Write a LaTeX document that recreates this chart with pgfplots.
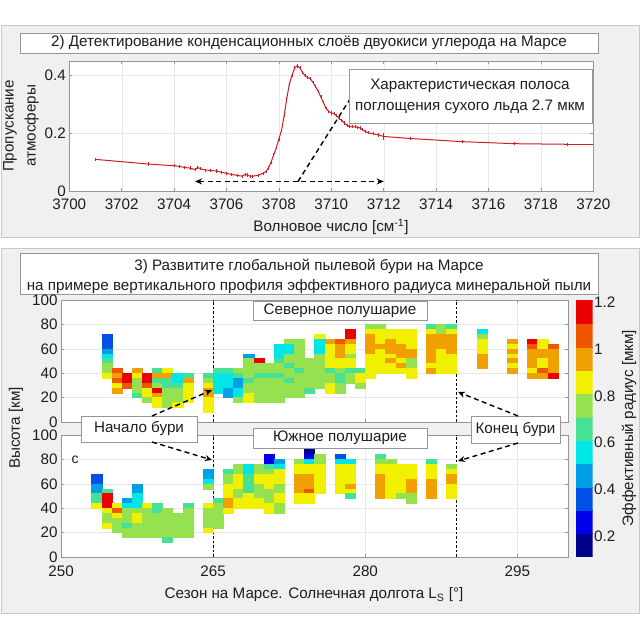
\documentclass[border=0pt]{standalone}
\usepackage{fontspec}
\setmainfont{Liberation Sans}
\usepackage{pgfplots}
\usepackage{pgfplotstable}
\pgfplotsset{compat=1.18}
\usetikzlibrary{arrows.meta}
\definecolor{c1}{RGB}{0,0,140}
\definecolor{c2}{RGB}{0,0,235}
\definecolor{c3}{RGB}{0,80,230}
\definecolor{c4}{RGB}{0,160,230}
\definecolor{c5}{RGB}{0,230,230}
\definecolor{c6}{RGB}{70,225,150}
\definecolor{c7}{RGB}{150,225,80}
\definecolor{c8}{RGB}{240,240,0}
\definecolor{c9}{RGB}{240,160,0}
\definecolor{c10}{RGB}{240,85,0}
\definecolor{c11}{RGB}{235,0,0}
\definecolor{panelbg}{RGB}{240,240,240}
\definecolor{panelline}{RGB}{200,200,200}
\definecolor{boxline}{RGB}{150,150,150}
\definecolor{curvered}{RGB}{205,30,40}
\definecolor{axgray}{RGB}{150,150,150}
\definecolor{txt}{RGB}{30,30,30}
\newcommand\fs{\fontsize{15.2}{18}\selectfont}
\pgfdeclareplotmark{heatcell}{\pgfpathrectangle{\pgfqpoint{-5.07pt}{-2.44pt}}{\pgfqpoint{10.14pt}{4.88pt}}\pgfusepathqfillstroke}
\pgfplotsset{
  myaxisstyle/.style={scale only axis, anchor=south west,
    axis background/.style={fill=white},
    axis line style={draw=axgray, line width=0.5pt},
    grid=major, major grid style={draw=gray!18, line width=0.4pt},
    tick align=inside, major tick length=3pt,
    tick style={draw=axgray, line width=0.5pt},
    tick label style={font=\fs, text=txt},
    /pgf/number format/assume math mode=true,
    /pgf/number format/1000 sep={},
    scaled ticks=false},
  myheatstyle/.style={myaxisstyle, width=506.9pt, height=122pt,
    xmin=250, xmax=300, ymin=0, ymax=100,
    xtick={250,265,280,295}, ytick={0,20,...,100}},
  mycells/.style={scatter, only marks, mark=heatcell, mark options={line width=0.3pt},
    point meta=explicit symbolic,
    scatter/@pre marker code/.code={\pgfsetfillcolor{c\pgfplotspointmeta}\pgfsetstrokecolor{c\pgfplotspointmeta}},
    scatter/@post marker code/.code={}},
  cbblock/.style={fill=#1, draw=#1, line width=0.2pt},
}
\pgfplotstableread[row sep=\\]{
x y c\\
254.5 70 3\\ 254.5 66 3\\ 254.5 62 3\\ 254.5 58 4\\ 254.5 54 5\\ 254.5 50 6\\ 254.5 46 7\\ 254.5 42 7\\ 254.5 38 8\\
255.5 42 10\\ 255.5 38 9\\ 255.5 34 10\\ 255.5 30 8\\ 255.5 26 9\\
256.5 38 11\\ 256.5 34 11\\ 256.5 30 10\\
257.5 42 9\\ 257.5 38 8\\ 257.5 34 7\\ 257.5 30 7\\ 257.5 26 7\\ 257.5 22 6\\
258.5 38 11\\ 258.5 34 11\\ 258.5 30 10\\ 258.5 26 8\\ 258.5 22 8\\ 258.5 18 7\\
259.5 42 6\\ 259.5 38 9\\ 259.5 34 6\\ 259.5 30 7\\ 259.5 26 11\\ 259.5 22 9\\ 259.5 18 8\\ 259.5 14 8\\
260.5 42 8\\ 260.5 38 9\\ 260.5 34 6\\ 260.5 30 6\\ 260.5 26 7\\ 260.5 22 7\\ 260.5 18 7\\ 260.5 14 7\\
261.5 38 5\\ 261.5 34 5\\ 261.5 30 6\\ 261.5 26 7\\ 261.5 22 7\\ 261.5 18 7\\ 261.5 14 8\\
262.5 38 6\\ 262.5 34 9\\ 262.5 30 8\\ 262.5 26 8\\ 262.5 22 8\\ 262.5 18 8\\
264.5 38 6\\ 264.5 34 7\\ 264.5 30 8\\ 264.5 26 9\\ 264.5 22 9\\ 264.5 18 8\\ 264.5 14 8\\ 264.5 10 8\\
265.5 42 6\\ 265.5 38 5\\ 265.5 34 5\\ 265.5 30 5\\ 265.5 26 5\\
266.5 42 6\\ 266.5 38 5\\ 266.5 34 5\\ 266.5 30 5\\ 266.5 26 4\\ 266.5 22 4\\
267.5 42 7\\ 267.5 38 6\\ 267.5 34 4\\ 267.5 30 4\\ 267.5 26 5\\ 267.5 22 5\\ 267.5 18 7\\
268.5 54 4\\ 268.5 50 7\\ 268.5 46 7\\ 268.5 42 7\\ 268.5 38 7\\ 268.5 34 6\\ 268.5 30 7\\ 268.5 26 7\\ 268.5 22 8\\ 268.5 18 8\\
269.5 50 11\\ 269.5 46 7\\ 269.5 42 7\\ 269.5 38 6\\ 269.5 34 7\\ 269.5 30 7\\ 269.5 26 7\\ 269.5 22 7\\ 269.5 18 7\\
270.5 46 7\\ 270.5 42 7\\ 270.5 38 6\\ 270.5 34 7\\ 270.5 30 7\\ 270.5 26 7\\ 270.5 22 7\\ 270.5 18 7\\
271.5 62 5\\ 271.5 58 5\\ 271.5 54 5\\ 271.5 50 6\\ 271.5 46 7\\ 271.5 42 7\\ 271.5 38 6\\ 271.5 34 7\\ 271.5 30 7\\ 271.5 26 7\\ 271.5 22 7\\ 271.5 18 7\\
272.5 66 7\\ 272.5 62 5\\ 272.5 58 5\\ 272.5 54 7\\ 272.5 50 7\\ 272.5 46 6\\ 272.5 42 7\\ 272.5 38 7\\ 272.5 34 6\\ 272.5 30 7\\ 272.5 26 7\\ 272.5 22 7\\
273.5 66 7\\ 273.5 62 7\\ 273.5 58 7\\ 273.5 54 7\\ 273.5 50 7\\ 273.5 46 7\\ 273.5 42 6\\ 273.5 38 7\\ 273.5 34 7\\ 273.5 30 7\\ 273.5 26 7\\ 273.5 22 7\\
274.5 50 7\\ 274.5 46 7\\ 274.5 42 7\\ 274.5 38 7\\ 274.5 34 7\\ 274.5 30 7\\ 274.5 26 6\\
275.5 70 8\\ 275.5 66 5\\ 275.5 62 5\\ 275.5 58 5\\ 275.5 54 7\\ 275.5 50 7\\ 275.5 46 7\\ 275.5 42 7\\ 275.5 38 7\\ 275.5 34 7\\ 275.5 30 7\\
276.5 66 9\\ 276.5 62 8\\ 276.5 58 8\\ 276.5 54 8\\ 276.5 50 8\\ 276.5 46 8\\ 276.5 42 6\\ 276.5 38 7\\ 276.5 34 7\\ 276.5 30 8\\ 276.5 26 8\\
277.5 66 10\\ 277.5 62 9\\ 277.5 58 9\\ 277.5 54 9\\ 277.5 50 8\\ 277.5 46 8\\ 277.5 42 7\\ 277.5 38 6\\ 277.5 34 6\\ 277.5 30 7\\ 277.5 26 7\\
278.5 74 11\\ 278.5 70 11\\ 278.5 66 9\\ 278.5 62 8\\ 278.5 58 8\\ 278.5 54 7\\ 278.5 50 8\\ 278.5 46 8\\ 278.5 42 6\\ 278.5 38 7\\ 278.5 34 7\\
279.5 42 6\\ 279.5 38 8\\ 279.5 34 8\\ 279.5 30 7\\
280.5 78 7\\ 280.5 74 8\\ 280.5 70 9\\ 280.5 66 9\\ 280.5 62 9\\ 280.5 58 9\\ 280.5 54 8\\ 280.5 50 8\\ 280.5 46 8\\ 280.5 42 8\\ 280.5 38 8\\
281.5 78 7\\ 281.5 74 8\\ 281.5 70 8\\ 281.5 66 8\\ 281.5 62 9\\ 281.5 58 8\\ 281.5 54 8\\ 281.5 50 8\\ 281.5 46 8\\ 281.5 42 8\\
282.5 74 8\\ 282.5 70 8\\ 282.5 66 9\\ 282.5 62 9\\ 282.5 58 9\\ 282.5 54 8\\ 282.5 50 9\\ 282.5 46 8\\ 282.5 42 8\\
283.5 74 8\\ 283.5 70 8\\ 283.5 66 8\\ 283.5 62 9\\ 283.5 58 9\\ 283.5 54 9\\ 283.5 50 8\\ 283.5 46 9\\ 283.5 42 8\\
284.5 74 8\\ 284.5 70 8\\ 284.5 66 8\\ 284.5 62 8\\ 284.5 58 9\\ 284.5 54 9\\ 284.5 50 7\\ 284.5 46 7\\ 284.5 42 8\\ 284.5 38 8\\
286.5 78 6\\ 286.5 74 8\\ 286.5 70 9\\ 286.5 66 9\\ 286.5 62 9\\ 286.5 58 9\\ 286.5 54 9\\ 286.5 50 9\\ 286.5 46 8\\ 286.5 42 9\\
287.5 78 7\\ 287.5 74 7\\ 287.5 70 9\\ 287.5 66 9\\ 287.5 62 9\\ 287.5 58 8\\ 287.5 54 8\\ 287.5 50 8\\ 287.5 46 8\\ 287.5 42 8\\
288.5 78 6\\ 288.5 74 8\\ 288.5 70 9\\ 288.5 66 9\\ 288.5 62 9\\ 288.5 58 9\\ 288.5 54 8\\ 288.5 50 8\\ 288.5 46 8\\ 288.5 42 8\\
291.5 74 5\\ 291.5 70 7\\ 291.5 66 8\\ 291.5 62 8\\ 291.5 58 8\\ 291.5 54 9\\ 291.5 50 9\\ 291.5 46 9\\
294.5 66 9\\ 294.5 62 8\\ 294.5 58 9\\ 294.5 54 8\\ 294.5 50 9\\ 294.5 46 8\\ 294.5 42 9\\
296.5 66 11\\ 296.5 62 10\\ 296.5 58 9\\ 296.5 54 9\\ 296.5 50 9\\ 296.5 46 9\\ 296.5 42 8\\ 296.5 38 9\\
297.5 66 8\\ 297.5 62 8\\ 297.5 58 9\\ 297.5 54 9\\ 297.5 50 8\\ 297.5 46 8\\ 297.5 42 10\\ 297.5 38 9\\
298.5 62 10\\ 298.5 58 9\\ 298.5 54 9\\ 298.5 50 9\\ 298.5 46 9\\ 298.5 42 9\\ 298.5 38 11\\
}\northtable
\pgfplotstableread[row sep=\\]{
x y c\\
253.5 66 3\\ 253.5 62 3\\ 253.5 58 4\\ 253.5 54 4\\ 253.5 50 6\\ 253.5 46 6\\ 253.5 42 8\\
254.5 54 6\\ 254.5 50 11\\ 254.5 46 11\\ 254.5 42 11\\ 254.5 38 8\\ 254.5 34 7\\ 254.5 30 7\\ 254.5 26 8\\
255.5 42 8\\ 255.5 38 10\\ 255.5 34 8\\ 255.5 30 7\\ 255.5 26 7\\ 255.5 22 7\\
256.5 46 4\\ 256.5 42 5\\ 256.5 38 7\\ 256.5 34 7\\ 256.5 30 7\\ 256.5 26 6\\ 256.5 22 7\\ 256.5 18 7\\
257.5 58 4\\ 257.5 54 4\\ 257.5 50 5\\ 257.5 46 5\\ 257.5 42 5\\ 257.5 38 7\\ 257.5 34 8\\ 257.5 30 8\\ 257.5 26 7\\ 257.5 22 7\\ 257.5 18 7\\
258.5 42 8\\ 258.5 38 7\\ 258.5 34 7\\ 258.5 30 7\\ 258.5 26 7\\ 258.5 22 7\\ 258.5 18 7\\
259.5 42 6\\ 259.5 38 6\\ 259.5 34 7\\ 259.5 30 7\\ 259.5 26 7\\ 259.5 22 7\\ 259.5 18 7\\
260.5 38 7\\ 260.5 34 7\\ 260.5 30 7\\ 260.5 26 7\\ 260.5 22 7\\ 260.5 18 7\\ 260.5 14 6\\
261.5 34 7\\ 261.5 30 7\\ 261.5 26 7\\ 261.5 22 7\\ 261.5 18 7\\
262.5 42 6\\ 262.5 38 7\\ 262.5 34 7\\ 262.5 30 7\\ 262.5 26 7\\ 262.5 22 7\\ 262.5 18 7\\
264.5 70 4\\ 264.5 66 4\\ 264.5 62 5\\ 264.5 58 7\\ 264.5 42 8\\ 264.5 38 7\\ 264.5 34 7\\ 264.5 30 7\\ 264.5 26 7\\ 264.5 22 8\\
265.5 46 6\\ 265.5 42 7\\ 265.5 38 7\\ 265.5 34 7\\ 265.5 30 7\\ 265.5 26 7\\
266.5 70 6\\ 266.5 66 7\\ 266.5 62 7\\ 266.5 58 8\\ 266.5 54 8\\ 266.5 50 8\\ 266.5 46 9\\ 266.5 42 9\\ 266.5 38 8\\
267.5 74 7\\ 267.5 70 7\\ 267.5 66 8\\ 267.5 62 8\\ 267.5 58 8\\ 267.5 54 7\\ 267.5 50 7\\ 267.5 46 8\\ 267.5 42 8\\
268.5 74 5\\ 268.5 70 5\\ 268.5 66 6\\ 268.5 62 6\\ 268.5 58 6\\ 268.5 54 6\\ 268.5 50 8\\ 268.5 46 8\\ 268.5 42 8\\
269.5 74 7\\ 269.5 70 7\\ 269.5 66 8\\ 269.5 62 8\\ 269.5 58 7\\ 269.5 54 7\\ 269.5 50 7\\ 269.5 46 8\\ 269.5 42 8\\
270.5 82 2\\ 270.5 78 2\\ 270.5 74 6\\ 270.5 70 7\\ 270.5 66 8\\ 270.5 62 8\\ 270.5 58 8\\ 270.5 54 7\\ 270.5 50 7\\ 270.5 46 7\\ 270.5 42 8\\ 270.5 38 8\\
271.5 78 4\\ 271.5 74 5\\ 271.5 70 8\\ 271.5 66 8\\ 271.5 62 8\\ 271.5 58 7\\ 271.5 54 7\\ 271.5 50 8\\ 271.5 46 8\\ 271.5 42 7\\ 271.5 38 7\\
273.5 78 7\\ 273.5 74 8\\ 273.5 70 8\\ 273.5 66 9\\ 273.5 62 9\\ 273.5 58 9\\ 273.5 54 9\\ 273.5 50 8\\ 273.5 46 8\\
274.5 86 1\\ 274.5 82 2\\ 274.5 78 5\\ 274.5 74 8\\ 274.5 70 8\\ 274.5 66 9\\ 274.5 62 9\\ 274.5 58 9\\ 274.5 54 10\\ 274.5 50 8\\ 274.5 46 8\\
275.5 82 7\\ 275.5 78 7\\ 275.5 74 8\\ 275.5 70 8\\ 275.5 66 8\\ 275.5 62 8\\ 275.5 58 8\\ 275.5 54 8\\
277.5 82 3\\ 277.5 78 5\\ 277.5 74 8\\ 277.5 70 8\\ 277.5 66 8\\ 277.5 62 8\\ 277.5 58 8\\ 277.5 54 8\\
278.5 78 5\\ 278.5 74 8\\ 278.5 70 8\\ 278.5 66 8\\ 278.5 62 8\\ 278.5 58 9\\ 278.5 54 8\\ 278.5 50 6\\
281.5 82 6\\ 281.5 78 7\\ 281.5 74 8\\ 281.5 70 8\\ 281.5 66 9\\ 281.5 62 9\\ 281.5 58 9\\ 281.5 54 9\\ 281.5 50 9\\
282.5 78 7\\ 282.5 74 8\\ 282.5 70 8\\ 282.5 66 8\\ 282.5 62 8\\ 282.5 58 8\\ 282.5 54 8\\ 282.5 50 8\\
283.5 74 8\\ 283.5 70 8\\ 283.5 66 8\\ 283.5 62 8\\ 283.5 58 8\\ 283.5 54 8\\ 283.5 50 7\\
284.5 74 8\\ 284.5 70 8\\ 284.5 66 8\\ 284.5 62 9\\ 284.5 58 9\\ 284.5 54 9\\ 284.5 50 7\\ 284.5 46 7\\
286.5 78 6\\ 286.5 74 8\\ 286.5 70 8\\ 286.5 66 8\\ 286.5 62 9\\ 286.5 58 9\\ 286.5 54 9\\ 286.5 50 9\\
288.5 74 7\\ 288.5 70 8\\ 288.5 66 9\\ 288.5 62 9\\ 288.5 58 8\\ 288.5 54 8\\ 288.5 50 8\\
}\southtable
\begin{document}
\begin{tikzpicture}[font=\fs, text=txt]
\useasboundingbox (0pt,0pt) rectangle (640pt,640pt);
\fill[white] (0pt,0pt) rectangle (640pt,640pt);
% panels
\filldraw[fill=panelbg, draw=panelline] (1pt,615pt) rectangle (639pt,403pt);
\filldraw[fill=panelbg, draw=panelline] (1pt,392pt) rectangle (639pt,27pt);
\filldraw[fill=white, draw=boxline] (20pt,607pt) rectangle (598pt,587pt);
\node at (309pt,597pt) {2) Детектирование конденсационных слоёв двуокиси углерода на Марсе};
\filldraw[fill=white, draw=boxline] (20pt,387pt) rectangle (598pt,346pt);
\node[align=center, font=\fontsize{15.2}{20}\selectfont] at (309pt,364pt) {3) Развитите глобальной пылевой бури на Марсе\\на примере вертикального профиля эффективного радиуса минеральной пыли};

% ---------- top axis
\begin{axis}[myaxisstyle, at={(69.3pt,448.7pt)}, width=524pt, height=130.3pt,
  xmin=3700, xmax=3720, ymin=0, ymax=0.449,
  xtick={3700,3702,...,3720}, ytick={0,0.2,0.4},
  xticklabel style={yshift=-4pt}]
\addplot[curvered, line width=1pt, mark=|, mark size=1.6pt, mark options={line width=0.6pt}] coordinates {
(3701,0.110) (3703,0.094) (3704,0.088) (3704.2,0.086) (3704.4,0.082) (3704.6,0.080)
(3704.8,0.075) (3704.9,0.082) (3705,0.078) (3705.2,0.073) (3705.4,0.072) (3705.6,0.070)
(3705.8,0.066) (3706,0.062) (3706.2,0.058) (3706.4,0.055) (3706.6,0.052) (3706.7,0.058)
(3706.8,0.056) (3706.9,0.052) (3707,0.052) (3707.2,0.055) (3707.4,0.062) (3707.5,0.068)
(3707.6,0.080) (3707.7,0.100) (3707.8,0.125) (3707.9,0.150) (3708,0.180) (3708.1,0.210)
(3708.2,0.260) (3708.3,0.320) (3708.4,0.370) (3708.5,0.400) (3708.6,0.425) (3708.7,0.432)
(3708.8,0.425) (3708.9,0.410) (3709,0.398) (3709.1,0.392) (3709.2,0.388) (3709.3,0.375)
(3709.4,0.360) (3709.5,0.345) (3709.6,0.325) (3709.7,0.305) (3709.8,0.285) (3709.9,0.275)
(3710,0.270) (3710.1,0.268) (3710.2,0.260) (3710.3,0.250) (3710.4,0.245) (3710.5,0.235)
(3710.6,0.228) (3710.7,0.223) (3710.8,0.222) (3710.9,0.222) (3711,0.221) (3711.1,0.218)
(3711.2,0.212) (3711.3,0.206) (3711.4,0.202) (3711.6,0.198) (3711.8,0.194) (3712,0.189)
(3713,0.182) (3715,0.171) (3717,0.164) (3719,0.162)
};
\addplot[curvered, line width=1pt, forget plot] coordinates {(3719,0.162) (3720,0.162)};
\addplot[curvered, only marks, mark=|, mark size=3.2pt, mark options={line width=0.6pt}, forget plot] coordinates {(3712,0.189)};
\draw[black, line width=1.4pt, dash pattern=on 5pt off 3.5pt, {Stealth[length=7pt,width=6pt]}-{Stealth[length=7pt,width=6pt]}] (axis cs:3704.8,0.034) -- (axis cs:3712,0.034);
\draw[black, line width=1.4pt, dash pattern=on 5pt off 3.5pt] (axis cs:3708.73,0.034) -- (axis cs:3710.8,0.33);
\end{axis}
\node[rotate=90, align=center, font=\fontsize{15.2}{22}\selectfont] at (21pt,514pt) {Пропускание\\атмосферы};
\node at (331pt,413pt) {Волновое число [см\textsuperscript{-1}]};
\filldraw[fill=white, draw=boxline] (349pt,571pt) rectangle (592pt,517pt);
\node[align=center, font=\fontsize{15.2}{21}\selectfont] at (470pt,544pt) {Характеристическая полоса\\поглощения сухого льда 2.7 мкм};

% ---------- upper heat map (north)
\begin{axis}[myheatstyle, at={(61.1pt,218pt)}, xticklabels={}]
\addplot[mycells] table[meta=c] {\northtable};
\draw[black, line width=0.8pt, dash pattern=on 2.5pt off 2pt] (axis cs:265,0) -- (axis cs:265,100);
\draw[black, line width=0.8pt, dash pattern=on 2.5pt off 2pt] (axis cs:289,0) -- (axis cs:289,100);
\end{axis}

% ---------- lower heat map (south)
\begin{axis}[myheatstyle, at={(61.1pt,83pt)}, xticklabel style={yshift=-5pt}]
\addplot[mycells] table[meta=c] {\southtable};
\draw[black, line width=0.8pt, dash pattern=on 2.5pt off 2pt] (axis cs:265,0) -- (axis cs:265,100);
\draw[black, line width=0.8pt, dash pattern=on 2.5pt off 2pt] (axis cs:289,0) -- (axis cs:289,100);
\end{axis}

% ---------- colour bar (11 discrete levels, 0.111 ... 1.211 um)
\begin{axis}[scale only axis, anchor=south west, at={(576pt,83.3pt)}, width=16.7pt, height=256.7pt,
  xmin=0, xmax=1, ymin=0.5, ymax=11.5, xtick=\empty,
  ytick={1.39,3.39,5.39,7.39,9.39,11.39}, yticklabels={0.2,0.4,0.6,0.8,1,1.2},
  yticklabel pos=right, major tick length=0pt, axis line style={draw=none},
  yticklabel style={font=\fs, text=txt, xshift=-2pt}]
\addplot[cbblock=c1] coordinates {(0,0.5) (1,0.5) (1,1.5) (0,1.5)} -- cycle;
\addplot[cbblock=c2] coordinates {(0,1.5) (1,1.5) (1,2.5) (0,2.5)} -- cycle;
\addplot[cbblock=c3] coordinates {(0,2.5) (1,2.5) (1,3.5) (0,3.5)} -- cycle;
\addplot[cbblock=c4] coordinates {(0,3.5) (1,3.5) (1,4.5) (0,4.5)} -- cycle;
\addplot[cbblock=c5] coordinates {(0,4.5) (1,4.5) (1,5.5) (0,5.5)} -- cycle;
\addplot[cbblock=c6] coordinates {(0,5.5) (1,5.5) (1,6.5) (0,6.5)} -- cycle;
\addplot[cbblock=c7] coordinates {(0,6.5) (1,6.5) (1,7.5) (0,7.5)} -- cycle;
\addplot[cbblock=c8] coordinates {(0,7.5) (1,7.5) (1,8.5) (0,8.5)} -- cycle;
\addplot[cbblock=c9] coordinates {(0,8.5) (1,8.5) (1,9.5) (0,9.5)} -- cycle;
\addplot[cbblock=c10] coordinates {(0,9.5) (1,9.5) (1,10.5) (0,10.5)} -- cycle;
\addplot[cbblock=c11] coordinates {(0,10.5) (1,10.5) (1,11.5) (0,11.5)} -- cycle;
\end{axis}

% labels of lower panel
\node[rotate=90] at (16pt,212pt) {Высота [км]};
\node at (314pt,45pt) {Сезон на Марсе. Солнечная долгота L\textsubscript{S} [°]};
\node[rotate=90] at (629pt,212pt) {Эффективный радиус [мкм]};
\node[font=\fontsize{14}{16}\selectfont] at (75pt,180pt) {с};

% annotation boxes
\filldraw[fill=white, draw=boxline] (253pt,339pt) rectangle (427pt,320pt);
\node at (340pt,329.5pt) {Северное полушарие};
\filldraw[fill=white, draw=boxline] (253pt,212pt) rectangle (427pt,192pt);
\node at (340pt,202pt) {Южное полушарие};
\filldraw[fill=white, draw=boxline] (81pt,224pt) rectangle (197pt,198pt);
\node at (139pt,211pt) {Начало бури};
\filldraw[fill=white, draw=boxline] (471pt,224pt) rectangle (560pt,197pt);
\node at (515.5pt,210.5pt) {Конец бури};

% arrows
\tikzset{annarrow/.style={black, line width=1.4pt, dash pattern=on 5pt off 3.5pt, -{Stealth[length=7pt,width=6pt]}}}
\draw[annarrow] (152pt,224pt) -- (212pt,250pt);
\draw[annarrow] (152pt,198pt) -- (212pt,180pt);
\draw[annarrow] (518pt,224pt) -- (458pt,248pt);
\draw[annarrow] (518pt,197pt) -- (458pt,179pt);
\end{tikzpicture}
\end{document}
